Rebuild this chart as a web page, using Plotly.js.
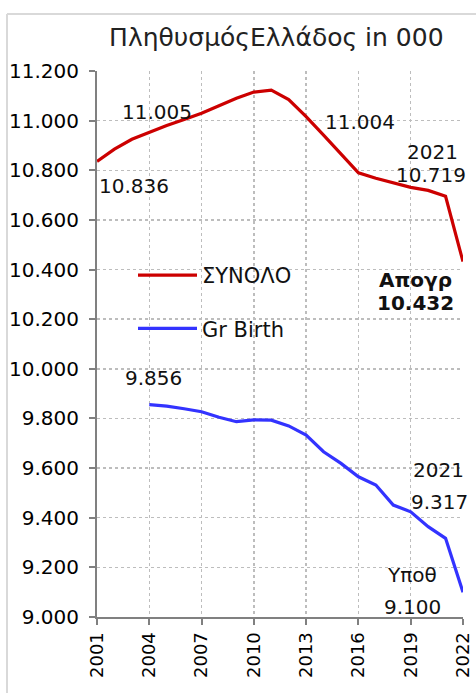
<!DOCTYPE html>
<html>
<head>
<meta charset="utf-8">
<script src="https://cdn.plot.ly/plotly-3.0.1.min.js"></script>
<style>
html, body { margin: 0; padding: 0; background: #ffffff; }
#chart { width: 476px; height: 693px; }
</style>
</head>
<body>
<div id="chart"></div>
<script>
// ---- data ----
var yearsTotal = [2001, 2002, 2003, 2004, 2005, 2006, 2007, 2008, 2009, 2010, 2011,
                  2012, 2013, 2014, 2015, 2016, 2017, 2018, 2019, 2020, 2021, 2022];
var totalPop = [10836, 10885, 10925, 10953, 10980, 11005, 11030, 11060, 11090, 11115, 11123,
                11085, 11016, 10942, 10868, 10790, 10768, 10748, 10731, 10719, 10695, 10432];

var yearsBirth = [2004, 2005, 2006, 2007, 2008, 2009, 2010, 2011, 2012, 2013,
                  2014, 2015, 2016, 2017, 2018, 2019, 2020, 2021, 2022];
var greekBirth = [9856, 9850, 9839, 9827, 9805, 9787, 9794, 9793, 9770, 9733,
                  9666, 9619, 9565, 9532, 9451, 9424, 9364, 9317, 9100];

var seriesNames = ["ΣΥΝΟΛΟ", "Gr Birth"];
var xTickVals = [2001, 2004, 2007, 2010, 2013, 2016, 2019, 2022];
var titleText = "ΠληθυσμόςΕλλάδος in 000";

// data labels: [text, x (year), y (value), bold]
var labelTexts = ["11.123", "11.005", "10.836", "11.004", "2021", "10.719", "Απογρ", "10.432",
                  "9.856", "2021", "9.317", "Υποθ", "9.100"];
var labelX = [2010.24, 2004.47, 2003.12, 2016.09, 2020.25, 2020.19, 2019.3, 2019.3,
              2004.27, 2020.62, 2020.68, 2019.07, 2019.1];
var labelY = [11213, 11036, 10737, 10996, 10875, 10781, 10358, 10266,
              9962, 9592, 9465, 9169, 9042];
var labelBold = [false, false, false, false, false, false, true, true,
                 false, false, false, false, false];

var FONT = "DejaVu Sans, Liberation Sans, Arial, sans-serif";

var traces = [
  {
    x: yearsTotal, y: totalPop, name: seriesNames[0], type: "scatter", mode: "lines",
    line: { color: "#CC0000", width: 3.2 }, legendgroup: "a"
  },
  {
    x: yearsBirth, y: greekBirth, name: seriesNames[1], type: "scatter", mode: "lines",
    line: { color: "#3333FF", width: 3.2 }, legendgroup: "b"
  }
];

var annotations = labelTexts.map(function (t, i) {
  return {
    text: t, x: labelX[i], y: labelY[i], xref: "x", yref: "y",
    showarrow: false, xanchor: "center", yanchor: "middle",
    font: { family: FONT, size: 20, color: "#111111", weight: labelBold[i] ? "bold" : "normal" }
  };
});

// pixel geometry helpers for the outer frame (paper coordinates)
var plotL = 97, plotR = 463, plotT = 71, plotB = 617;
function px2paperX(px) { return (px - plotL) / (plotR - plotL); }
function py2paperY(py) { return (plotB - py) / (plotB - plotT); }

var shapes = [
  { type: "line", xref: "paper", yref: "paper", x0: px2paperX(7), x1: px2paperX(7),
    y0: py2paperY(14), y1: py2paperY(700), line: { color: "#d9d9d9", width: 2 } },
  { type: "line", xref: "paper", yref: "paper", x0: px2paperX(7), x1: px2paperX(480),
    y0: py2paperY(14), y1: py2paperY(14), line: { color: "#d9d9d9", width: 2 } }
];

var layout = {
  width: 476, height: 693,
  margin: { l: 97, r: 13, t: 71, b: 76, pad: 0 },
  paper_bgcolor: "#ffffff", plot_bgcolor: "#ffffff",
  separators: ",.",
  font: { family: FONT, color: "#000000" },
  title: {
    text: titleText, xref: "paper", x: 0.49, xanchor: "center",
    yref: "container", y: 1 - 37 / 693, yanchor: "middle",
    font: { family: FONT, size: 25, color: "#222222" }
  },
  xaxis: {
    range: [2001, 2022], tickmode: "array", tickvals: xTickVals,
    ticktext: xTickVals.map(String), tickangle: -90,
    showgrid: true, gridcolor: "#bdbdbd", gridwidth: 1.5, griddash: "dot",
    showline: true, linecolor: "#808080", linewidth: 2,
    ticks: "outside", ticklen: 6, tickcolor: "#808080", tickwidth: 2,
    tickfont: { family: FONT, size: 18, color: "#000000" },
    zeroline: false, fixedrange: true
  },
  yaxis: {
    range: [9000, 11200], tickmode: "linear", tick0: 9000, dtick: 200,
    tickformat: ",.0f",
    showgrid: true, gridcolor: "#bdbdbd", gridwidth: 1.5, griddash: "dot",
    showline: true, linecolor: "#808080", linewidth: 2,
    ticks: "outside", ticklen: 6, tickcolor: "#808080", tickwidth: 2,
    ticklabelstandoff: 6,
    tickfont: { family: FONT, size: 20, color: "#000000" },
    zeroline: false, fixedrange: true
  },
  showlegend: true,
  legend: {
    x: px2paperX(133), xanchor: "left", y: py2paperY(255), yanchor: "top",
    bgcolor: "rgba(0,0,0,0)", borderwidth: 0,
    itemwidth: 59,
    traceorder: "grouped", tracegroupgap: 23,
    font: { family: FONT, size: 21, color: "#111111" }
  },
  annotations: annotations,
  shapes: shapes
};

Plotly.newPlot("chart", traces, layout, { displayModeBar: false, staticPlot: true });
</script>
</body>
</html>
